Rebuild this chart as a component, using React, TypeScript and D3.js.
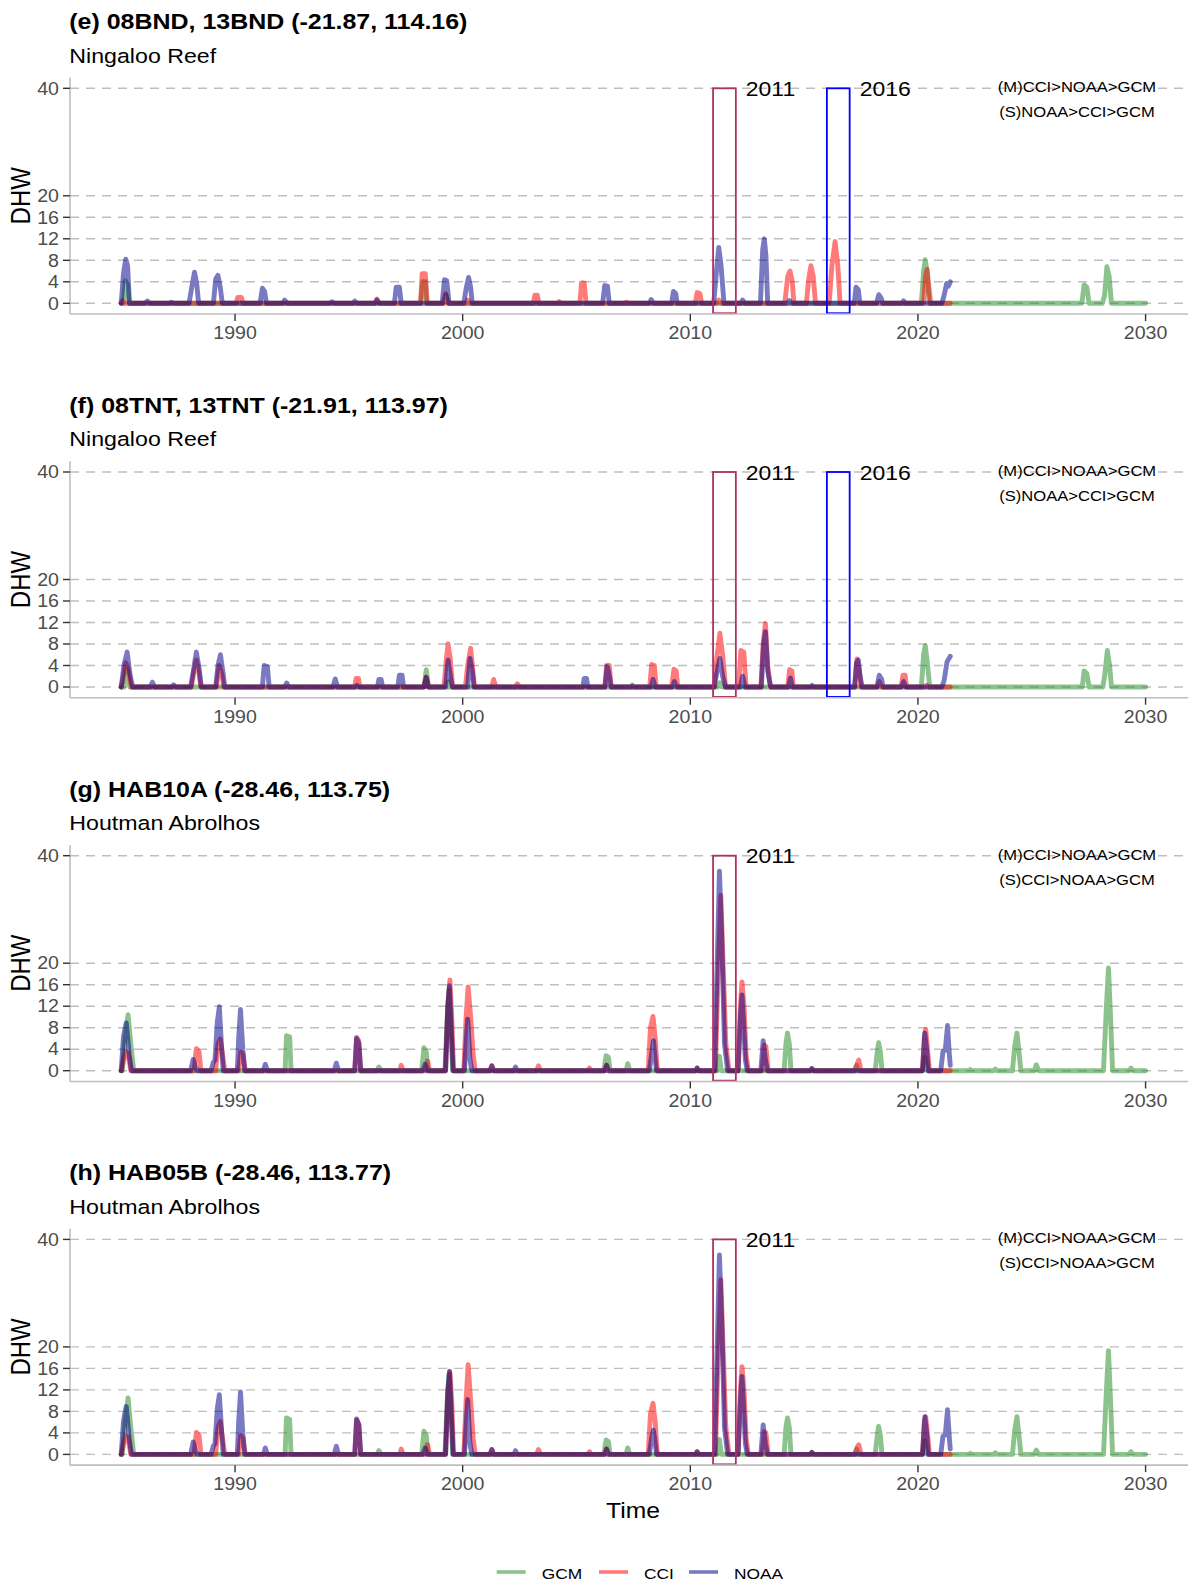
import React, { useEffect } from "react";
import * as d3 from "d3";

// DHW time series: [decimal year, DHW]
type Pt = [number, number];

const panelTitles = [
  "(e) 08BND, 13BND (-21.87, 114.16)",
  "(f) 08TNT, 13TNT (-21.91, 113.97)",
  "(g) HAB10A (-28.46, 113.75)",
  "(h) HAB05B (-28.46, 113.77)",
];
const panelSites = ["Ningaloo Reef", "Ningaloo Reef", "Houtman Abrolhos", "Houtman Abrolhos"];
const rankM = ["(M)CCI>NOAA>GCM", "(M)CCI>NOAA>GCM", "(M)CCI>NOAA>GCM", "(M)CCI>NOAA>GCM"];
const rankS = ["(S)NOAA>CCI>GCM", "(S)NOAA>CCI>GCM", "(S)CCI>NOAA>GCM", "(S)CCI>NOAA>GCM"];
const eventYears = [[2011, 2016], [2011, 2016], [2011], [2011]];
const eventColors: Record<number, string> = { 2011: "#B03060", 2016: "#0000FF" };

const yTicks = [0, 4, 8, 12, 16, 20, 40];
const xTicks = [1990, 2000, 2010, 2020, 2030];

const seriesNames = ["GCM", "CCI", "NOAA"];
const seriesColors = ["#228B22", "#FF0000", "#00008B"];

// ---- panel (e)
const gcmE: Pt[] = [
  [1985.0, 0], [1985.1, 0], [1985.18, 4.2], [1985.28, 3.5], [1985.36, 0],
  [1998.16, 0], [1998.24, 4], [1998.36, 4], [1998.42, 0],
  [1999.2, 0], [1999.28, 1.5], [1999.36, 0],
  [2020.15, 0], [2020.25, 6], [2020.32, 8.1], [2020.4, 6], [2020.5, 0],
  [2027.2, 0], [2027.3, 3.4], [2027.42, 3], [2027.52, 0],
  [2028.1, 0], [2028.2, 1.5], [2028.3, 6.8], [2028.4, 5], [2028.5, 0],
  [2030.0, 0],
];
const cciE: Pt[] = [
  [1985.0, 0], [1985.05, 0.5], [1985.15, 0],
  [1990.05, 0], [1990.12, 1.1], [1990.28, 1.1], [1990.35, 0],
  [1996.15, 0], [1996.23, 0.8], [1996.32, 0],
  [1998.15, 0], [1998.22, 5.5], [1998.36, 5.5], [1998.44, 0],
  [1999.15, 0], [1999.25, 1.8], [1999.35, 0],
  [2000.15, 0], [2000.22, 0.6], [2000.3, 0],
  [2003.1, 0], [2003.17, 1.5], [2003.28, 1.5], [2003.35, 0],
  [2004.18, 0], [2004.24, 0.3], [2004.32, 0],
  [2005.15, 0], [2005.22, 3.8], [2005.34, 3.8], [2005.42, 0],
  [2007.12, 0], [2007.2, 0.2], [2007.28, 0],
  [2010.22, 0], [2010.3, 2], [2010.42, 1.8], [2010.5, 0],
  [2011.15, 0], [2011.25, 0.6], [2011.35, 0],
  [2014.15, 0], [2014.28, 5], [2014.38, 6], [2014.48, 4], [2014.55, 0],
  [2015.1, 0], [2015.2, 4.5], [2015.3, 7], [2015.4, 5], [2015.5, 0],
  [2016.1, 0], [2016.22, 7], [2016.36, 11.5], [2016.48, 7], [2016.58, 0],
  [2020.25, 0], [2020.33, 5], [2020.4, 6.3], [2020.48, 3], [2020.56, 0],
  [2021.42, 0],
];
const noaaE: Pt[] = [
  [1985.0, 0], [1985.1, 5.5], [1985.2, 8.2], [1985.28, 7], [1985.36, 0],
  [1986.05, 0], [1986.15, 0.4], [1986.25, 0],
  [1987.12, 0], [1987.2, 0.2], [1987.3, 0],
  [1987.98, 0], [1988.1, 3], [1988.22, 5.8], [1988.32, 3.5], [1988.4, 0],
  [1989.05, 0], [1989.15, 4.5], [1989.25, 5.2], [1989.35, 3], [1989.44, 0],
  [1991.1, 0], [1991.2, 2.8], [1991.3, 2.2], [1991.38, 0],
  [1992.1, 0], [1992.18, 0.6], [1992.3, 0],
  [1994.18, 0], [1994.26, 0.3], [1994.36, 0],
  [1995.18, 0], [1995.26, 0.4], [1995.36, 0],
  [1996.16, 0], [1996.24, 0.6], [1996.32, 0],
  [1997.0, 0], [1997.08, 3], [1997.22, 3], [1997.3, 0],
  [1999.1, 0], [1999.2, 4.4], [1999.3, 4.2], [1999.4, 0],
  [2000.05, 0], [2000.15, 2.7], [2000.26, 4.8], [2000.35, 3], [2000.42, 0],
  [2006.15, 0], [2006.24, 3.3], [2006.36, 3.2], [2006.44, 0],
  [2008.2, 0], [2008.28, 0.7], [2008.38, 0],
  [2009.18, 0], [2009.26, 2.2], [2009.36, 1.8], [2009.42, 0],
  [2011.03, 0], [2011.15, 6], [2011.25, 10.4], [2011.35, 7], [2011.48, 0],
  [2012.22, 0], [2012.3, 0.6], [2012.4, 0],
  [2013.08, 0], [2013.18, 10], [2013.25, 12], [2013.32, 9], [2013.4, 0],
  [2014.28, 0], [2014.35, 0.5], [2014.45, 0],
  [2017.2, 0], [2017.28, 3], [2017.38, 2.5], [2017.45, 0],
  [2018.18, 0], [2018.28, 1.6], [2018.38, 1], [2018.45, 0],
  [2019.28, 0], [2019.37, 0.45], [2019.45, 0],
  [2021.05, 0], [2021.15, 1.5], [2021.26, 3.7], [2021.34, 3.2], [2021.42, 4],
];

// ---- panel (f)
const gcmF: Pt[] = [
  [1985.0, 0], [1985.12, 0], [1985.25, 3.3], [1985.38, 0],
  [1998.3, 0], [1998.4, 3.2], [1998.5, 0],
  [1999.3, 0], [1999.36, 1], [1999.42, 0],
  [2011.2, 0], [2011.3, 0.8], [2011.4, 0],
  [2020.15, 0], [2020.25, 6], [2020.32, 7.7], [2020.4, 5], [2020.52, 0],
  [2027.22, 0], [2027.3, 3], [2027.42, 2.5], [2027.52, 0],
  [2028.12, 0], [2028.2, 2], [2028.32, 6.8], [2028.42, 4], [2028.5, 0],
  [2030.0, 0],
];
const cciF: Pt[] = [
  [1985.0, 0], [1985.1, 2], [1985.2, 4.5], [1985.3, 3.5], [1985.45, 0],
  [1988.08, 0], [1988.2, 3], [1988.3, 5], [1988.42, 2.5], [1988.5, 0],
  [1989.18, 0], [1989.3, 4], [1989.42, 2.5], [1989.5, 0],
  [1995.26, 0], [1995.32, 1.6], [1995.42, 1.6], [1995.48, 0],
  [1998.3, 0], [1998.4, 1.8], [1998.48, 0],
  [1999.18, 0], [1999.28, 5], [1999.36, 8], [1999.46, 5], [1999.56, 0],
  [2000.12, 0], [2000.22, 4], [2000.35, 7.2], [2000.45, 3], [2000.52, 0],
  [2001.28, 0], [2001.36, 1.4], [2001.46, 0],
  [2002.32, 0], [2002.4, 0.6], [2002.5, 0],
  [2006.25, 0], [2006.32, 4], [2006.44, 4], [2006.52, 0],
  [2008.22, 0], [2008.3, 4.2], [2008.42, 4], [2008.5, 0],
  [2009.18, 0], [2009.28, 3.3], [2009.38, 3], [2009.45, 0],
  [2011.05, 0], [2011.18, 6], [2011.3, 10], [2011.42, 6], [2011.55, 0],
  [2012.12, 0], [2012.22, 6.8], [2012.35, 6.5], [2012.45, 0],
  [2013.1, 0], [2013.2, 8], [2013.3, 11.8], [2013.4, 4], [2013.52, 0],
  [2014.28, 0], [2014.36, 3.2], [2014.46, 3], [2014.52, 0],
  [2017.22, 0], [2017.32, 5.2], [2017.42, 3], [2017.5, 0],
  [2018.22, 0], [2018.3, 1], [2018.4, 0],
  [2019.26, 0], [2019.34, 2.2], [2019.44, 2.2], [2019.5, 0],
  [2020.3, 0], [2020.38, 0.3], [2020.46, 0],
  [2021.42, 0],
];
const noaaF: Pt[] = [
  [1985.0, 0], [1985.12, 4], [1985.26, 6.5], [1985.38, 2.5], [1985.5, 0],
  [1986.28, 0], [1986.37, 0.9], [1986.46, 0],
  [1987.22, 0], [1987.3, 0.4], [1987.4, 0],
  [1988.05, 0], [1988.15, 2.5], [1988.3, 6.5], [1988.42, 3.5], [1988.52, 0],
  [1989.15, 0], [1989.25, 4], [1989.36, 6], [1989.46, 3], [1989.55, 0],
  [1991.2, 0], [1991.28, 4], [1991.42, 3.8], [1991.5, 0],
  [1992.18, 0], [1992.27, 0.75], [1992.36, 0],
  [1994.3, 0], [1994.4, 1.5], [1994.5, 0],
  [1995.28, 0], [1995.36, 0.3], [1995.44, 0],
  [1996.26, 0], [1996.32, 1.4], [1996.42, 1.4], [1996.48, 0],
  [1997.15, 0], [1997.22, 2.2], [1997.34, 2.2], [1997.4, 0],
  [1998.3, 0], [1998.4, 1.8], [1998.5, 0],
  [1999.25, 0], [1999.36, 5], [1999.46, 2], [1999.55, 0],
  [2000.22, 0], [2000.32, 5.3], [2000.42, 3], [2000.5, 0],
  [2005.28, 0], [2005.34, 1.6], [2005.44, 1.6], [2005.5, 0],
  [2006.25, 0], [2006.35, 3.8], [2006.45, 2], [2006.52, 0],
  [2007.38, 0], [2007.45, 0.3], [2007.52, 0],
  [2008.28, 0], [2008.36, 1.4], [2008.45, 0],
  [2009.22, 0], [2009.3, 1], [2009.4, 0],
  [2011.05, 0], [2011.18, 3], [2011.3, 5.3], [2011.42, 2], [2011.55, 0],
  [2012.2, 0], [2012.3, 2], [2012.4, 0],
  [2013.12, 0], [2013.22, 8], [2013.3, 10.3], [2013.4, 3], [2013.48, 1], [2013.54, 0],
  [2014.32, 0], [2014.4, 1.7], [2014.48, 0],
  [2015.28, 0], [2015.35, 0.3], [2015.42, 0],
  [2017.22, 0], [2017.3, 4.5], [2017.38, 5], [2017.46, 2], [2017.55, 0],
  [2018.2, 0], [2018.3, 2.2], [2018.4, 1.5], [2018.47, 0],
  [2019.28, 0], [2019.37, 1], [2019.46, 0],
  [2021.05, 0], [2021.15, 1.2], [2021.28, 4.7], [2021.42, 5.7],
];

// ---- panel (g)
const gcmG: Pt[] = [
  [1985.0, 0], [1985.05, 0], [1985.15, 5], [1985.3, 10.4], [1985.42, 5], [1985.55, 0],
  [1992.2, 0], [1992.26, 6.5], [1992.4, 6.3], [1992.46, 0],
  [1996.24, 0], [1996.32, 0.7], [1996.42, 0],
  [1998.2, 0], [1998.3, 4.3], [1998.4, 3.5], [1998.48, 0],
  [1999.22, 0], [1999.32, 10], [1999.4, 15], [1999.5, 6], [1999.56, 0],
  [2006.2, 0], [2006.3, 2.8], [2006.4, 2.5], [2006.48, 0],
  [2007.18, 0], [2007.25, 1.3], [2007.34, 0],
  [2011.2, 0], [2011.28, 2.7], [2011.36, 0],
  [2014.12, 0], [2014.2, 5], [2014.27, 7], [2014.35, 5], [2014.42, 0],
  [2017.2, 0], [2017.3, 1], [2017.38, 0],
  [2018.12, 0], [2018.2, 3], [2018.27, 5.2], [2018.35, 3.5], [2018.42, 0],
  [2020.2, 0], [2020.3, 2.5], [2020.4, 0],
  [2022.24, 0], [2022.3, 0.2], [2022.36, 0],
  [2023.32, 0], [2023.4, 0.3], [2023.48, 0],
  [2024.15, 0], [2024.25, 4.5], [2024.35, 7], [2024.45, 3], [2024.52, 0],
  [2025.12, 0], [2025.2, 1.1], [2025.3, 0],
  [2028.15, 0], [2028.28, 12], [2028.37, 19.1], [2028.46, 10], [2028.55, 0],
  [2029.28, 0], [2029.36, 0.5], [2029.44, 0],
  [2030.0, 0],
];
const cciG: Pt[] = [
  [1985.0, 0], [1985.1, 2], [1985.2, 3.5], [1985.3, 3.3], [1985.42, 0],
  [1988.2, 0], [1988.3, 4.1], [1988.42, 3.5], [1988.5, 0],
  [1989.15, 0], [1989.25, 5], [1989.35, 5.9], [1989.45, 3], [1989.55, 0],
  [1990.15, 0], [1990.25, 3.5], [1990.35, 3], [1990.45, 0],
  [1995.26, 0], [1995.34, 6.2], [1995.44, 5.5], [1995.52, 0],
  [1997.24, 0], [1997.3, 1], [1997.38, 0],
  [1998.36, 0], [1998.45, 1.8], [1998.55, 0],
  [1999.25, 0], [1999.35, 12], [1999.44, 16.9], [1999.52, 10], [1999.6, 0],
  [2000.05, 0], [2000.15, 10], [2000.24, 15.6], [2000.35, 10], [2000.46, 3], [2000.55, 0],
  [2001.2, 0], [2001.28, 0.9], [2001.36, 0],
  [2003.25, 0], [2003.33, 0.9], [2003.42, 0],
  [2005.5, 0], [2005.57, 0.5], [2005.64, 0],
  [2006.25, 0], [2006.32, 1], [2006.4, 0],
  [2008.15, 0], [2008.25, 8], [2008.36, 10.1], [2008.46, 6], [2008.55, 0],
  [2010.24, 0], [2010.3, 0.5], [2010.36, 0],
  [2011.1, 0], [2011.2, 15], [2011.34, 32.6], [2011.44, 20], [2011.56, 5], [2011.7, 0],
  [2012.1, 0], [2012.2, 12], [2012.27, 16.5], [2012.36, 12], [2012.45, 3], [2012.55, 0],
  [2013.15, 0], [2013.25, 4.8], [2013.32, 4.5], [2013.42, 0],
  [2015.28, 0], [2015.34, 0.4], [2015.42, 0],
  [2017.25, 0], [2017.35, 1.5], [2017.4, 2], [2017.5, 0],
  [2020.2, 0], [2020.28, 6], [2020.34, 7.7], [2020.42, 4], [2020.5, 0],
  [2021.42, 0],
];
const noaaG: Pt[] = [
  [1985.0, 0], [1985.1, 6.4], [1985.22, 8.9], [1985.35, 3], [1985.45, 0],
  [1988.05, 0], [1988.16, 2.1], [1988.28, 0.5], [1988.35, 0],
  [1988.95, 0], [1989.04, 1.5], [1989.12, 2], [1989.22, 9], [1989.31, 11.9], [1989.4, 5], [1989.48, 0],
  [1990.1, 0], [1990.16, 6], [1990.24, 11.4], [1990.34, 4], [1990.42, 0],
  [1991.25, 0], [1991.33, 1.2], [1991.42, 0],
  [1994.36, 0], [1994.45, 1.4], [1994.54, 0],
  [1995.26, 0], [1995.34, 6], [1995.44, 5], [1995.52, 0],
  [1998.25, 0], [1998.35, 1.2], [1998.44, 0],
  [1999.25, 0], [1999.35, 12], [1999.42, 15.8], [1999.5, 8], [1999.58, 0],
  [2000.08, 0], [2000.16, 6], [2000.22, 9.6], [2000.32, 2.1], [2000.4, 0],
  [2001.2, 0], [2001.28, 0.9], [2001.36, 0],
  [2002.25, 0], [2002.32, 0.7], [2002.4, 0],
  [2006.25, 0], [2006.32, 1], [2006.4, 0],
  [2008.2, 0], [2008.3, 3], [2008.38, 5.6], [2008.46, 2], [2008.52, 0],
  [2010.24, 0], [2010.3, 0.5], [2010.36, 0],
  [2011.07, 0], [2011.18, 20], [2011.28, 37.1], [2011.38, 25], [2011.5, 5], [2011.64, 0],
  [2012.1, 0], [2012.2, 10], [2012.27, 14.1], [2012.35, 8], [2012.42, 2], [2012.5, 0],
  [2013.1, 0], [2013.2, 5.6], [2013.3, 2], [2013.38, 0],
  [2015.28, 0], [2015.34, 0.4], [2015.42, 0],
  [2020.2, 0], [2020.3, 7], [2020.38, 4], [2020.46, 0],
  [2021.0, 0], [2021.1, 3.6], [2021.2, 3.8], [2021.3, 8.4], [2021.38, 3], [2021.42, 1],
];

// ---- panel (h)
const gcmH: Pt[] = [
  [1985.0, 0], [1985.05, 0], [1985.15, 5], [1985.3, 10.5], [1985.42, 5], [1985.55, 0],
  [1992.2, 0], [1992.26, 6.8], [1992.4, 6.5], [1992.46, 0],
  [1996.24, 0], [1996.32, 0.7], [1996.42, 0],
  [1998.2, 0], [1998.3, 4.3], [1998.4, 3.5], [1998.48, 0],
  [1999.22, 0], [1999.32, 10], [1999.4, 14.9], [1999.5, 6], [1999.56, 0],
  [2006.2, 0], [2006.3, 2.7], [2006.4, 2.4], [2006.48, 0],
  [2007.18, 0], [2007.25, 1.2], [2007.34, 0],
  [2011.2, 0], [2011.28, 2.8], [2011.36, 0],
  [2014.12, 0], [2014.2, 5], [2014.27, 6.8], [2014.35, 5], [2014.42, 0],
  [2017.2, 0], [2017.3, 1], [2017.38, 0],
  [2018.12, 0], [2018.2, 3], [2018.27, 5.2], [2018.35, 3.5], [2018.42, 0],
  [2020.2, 0], [2020.3, 2.5], [2020.4, 0],
  [2022.24, 0], [2022.3, 0.2], [2022.36, 0],
  [2023.32, 0], [2023.4, 0.3], [2023.48, 0],
  [2024.15, 0], [2024.25, 4.5], [2024.35, 7], [2024.45, 3], [2024.52, 0],
  [2025.12, 0], [2025.2, 0.8], [2025.3, 0],
  [2028.15, 0], [2028.28, 12], [2028.37, 19.3], [2028.46, 10], [2028.55, 0],
  [2029.28, 0], [2029.36, 0.5], [2029.44, 0],
  [2030.0, 0],
];
const cciH: Pt[] = [
  [1985.0, 0], [1985.1, 2], [1985.2, 3.4], [1985.3, 3.2], [1985.42, 0],
  [1988.2, 0], [1988.3, 4.1], [1988.42, 3.5], [1988.5, 0],
  [1989.15, 0], [1989.25, 5], [1989.35, 6.1], [1989.45, 3], [1989.55, 0],
  [1990.15, 0], [1990.25, 3.5], [1990.35, 3], [1990.45, 0],
  [1995.26, 0], [1995.34, 6.4], [1995.44, 5.5], [1995.52, 0],
  [1997.24, 0], [1997.3, 1], [1997.38, 0],
  [1998.36, 0], [1998.45, 1.8], [1998.55, 0],
  [1999.25, 0], [1999.35, 11], [1999.44, 15.3], [1999.52, 10], [1999.6, 0],
  [2000.05, 0], [2000.15, 10], [2000.24, 16.7], [2000.35, 10], [2000.46, 3], [2000.55, 0],
  [2001.2, 0], [2001.28, 0.9], [2001.36, 0],
  [2003.25, 0], [2003.33, 0.9], [2003.42, 0],
  [2005.5, 0], [2005.57, 0.5], [2005.64, 0],
  [2006.25, 0], [2006.32, 1], [2006.4, 0],
  [2008.15, 0], [2008.25, 7.5], [2008.36, 9.5], [2008.46, 6], [2008.55, 0],
  [2010.24, 0], [2010.3, 0.5], [2010.36, 0],
  [2011.1, 0], [2011.2, 15], [2011.34, 32.5], [2011.44, 20], [2011.56, 5], [2011.7, 0],
  [2012.1, 0], [2012.2, 12], [2012.27, 16.3], [2012.36, 12], [2012.45, 3], [2012.55, 0],
  [2013.15, 0], [2013.25, 4.2], [2013.32, 4], [2013.42, 0],
  [2015.28, 0], [2015.34, 0.4], [2015.42, 0],
  [2017.25, 0], [2017.35, 1.5], [2017.4, 1.8], [2017.5, 0],
  [2020.2, 0], [2020.28, 6], [2020.34, 7], [2020.42, 4], [2020.5, 0],
  [2021.42, 0],
];
const noaaH: Pt[] = [
  [1985.0, 0], [1985.1, 6.2], [1985.22, 8.9], [1985.35, 3], [1985.45, 0],
  [1988.05, 0], [1988.16, 2.3], [1988.28, 0.5], [1988.35, 0],
  [1988.95, 0], [1989.04, 1.5], [1989.12, 2], [1989.22, 8.5], [1989.31, 11.1], [1989.4, 5], [1989.48, 0],
  [1990.1, 0], [1990.16, 6], [1990.24, 11.6], [1990.34, 4], [1990.42, 0],
  [1991.25, 0], [1991.33, 1.2], [1991.42, 0],
  [1994.36, 0], [1994.45, 1.5], [1994.54, 0],
  [1995.26, 0], [1995.34, 6.6], [1995.44, 5.5], [1995.52, 0],
  [1998.25, 0], [1998.35, 1.2], [1998.44, 0],
  [1999.25, 0], [1999.35, 12], [1999.42, 15.5], [1999.5, 8], [1999.58, 0],
  [2000.08, 0], [2000.16, 6], [2000.22, 10.2], [2000.32, 2.1], [2000.4, 0],
  [2001.2, 0], [2001.28, 0.9], [2001.36, 0],
  [2002.25, 0], [2002.32, 0.7], [2002.4, 0],
  [2006.25, 0], [2006.32, 1], [2006.4, 0],
  [2008.2, 0], [2008.3, 3], [2008.38, 4.5], [2008.46, 2], [2008.52, 0],
  [2010.24, 0], [2010.3, 0.5], [2010.36, 0],
  [2011.07, 0], [2011.18, 20], [2011.28, 37.1], [2011.38, 25], [2011.5, 5], [2011.64, 0],
  [2012.1, 0], [2012.2, 10], [2012.27, 14.5], [2012.35, 8], [2012.42, 2], [2012.5, 0],
  [2013.1, 0], [2013.2, 5.5], [2013.3, 2], [2013.38, 0],
  [2015.28, 0], [2015.34, 0.4], [2015.42, 0],
  [2020.2, 0], [2020.3, 7], [2020.38, 4], [2020.46, 0],
  [2021.0, 0], [2021.1, 3.4], [2021.2, 3.6], [2021.3, 8.3], [2021.38, 3], [2021.42, 1],
];

const panelSeries: Pt[][][] = [
  [gcmE, cciE, noaaE],
  [gcmF, cciF, noaaF],
  [gcmG, cciG, noaaG],
  [gcmH, cciH, noaaH],
];

const W = 1188;
const H = 1584;
const SX = 1.12; // the original figure is a little stretched horizontally
const PANEL_STEP = 383.7;
const FONT = "'Liberation Sans', Arial, Helvetica, sans-serif";

const xScale = d3.scaleLinear().domain([1982.75, 2032.25]).range([70, 1196.8]);

const T: React.FC<{
  x: number;
  y: number;
  size: number;
  anchor?: string;
  weight?: string;
  fill?: string;
  rotate?: boolean;
  children: React.ReactNode;
}> = ({ x, y, size, anchor = "start", weight = "normal", fill = "#000", rotate, children }) => (
  <text
    transform={`translate(${x},${y}) scale(${SX},1)${rotate ? " rotate(-90)" : ""}`}
    fontSize={size}
    fontFamily={FONT}
    fontWeight={weight}
    textAnchor={anchor}
    fill={fill}
  >
    {children}
  </text>
);

const Panel: React.FC<{ i: number }> = ({ i }) => {
  const off = i * PANEL_STEP;
  const y = d3.scaleLinear().domain([-2, 42]).range([314.05 + off, 77.55 + off]);
  const line = d3
    .line<Pt>()
    .x((d) => xScale(d[0]))
    .y((d) => y(d[1]));
  const x0 = xScale.range()[0];
  const yBottom = y(-2);

  return (
    <g>
      <T x={69.3} y={29.3 + off} size={22.3} weight="bold">
        {panelTitles[i]}
      </T>
      <T x={69.3} y={62.7 + off} size={20.7}>
        {panelSites[i]}
      </T>

      {yTicks.map((t) => (
        <line
          key={`g${t}`}
          x1={x0}
          x2={W}
          y1={y(t)}
          y2={y(t)}
          stroke="#BEBEBE"
          strokeWidth={1.4}
          strokeDasharray="9,7"
        />
      ))}

      {panelSeries[i].map((s, k) => (
        <path
          key={seriesNames[k]}
          d={line(s) || ""}
          fill="none"
          stroke={seriesColors[k]}
          strokeOpacity={0.52}
          strokeWidth={4.9}
          strokeLinejoin="round"
          strokeLinecap="round"
        />
      ))}

      {eventYears[i].map((yr) => (
        <g key={`ev${yr}`}>
          <rect
            x={xScale(yr)}
            y={y(40)}
            width={xScale(yr + 1) - xScale(yr)}
            height={y(-1.85) - y(40)}
            fill="none"
            stroke={eventColors[yr]}
            strokeWidth={1.8}
          />
          <T x={xScale(yr + 1) + 10} y={y(40) + 7.5} size={20.5}>
            {String(yr)}
          </T>
        </g>
      ))}

      <T x={1077} y={y(40) + 4} size={14.8} anchor="middle">
        {rankM[i]}
      </T>
      <T x={1077} y={y(40) + 29} size={14.8} anchor="middle">
        {rankS[i]}
      </T>

      {/* axes */}
      <line x1={x0} x2={x0} y1={y(42)} y2={yBottom} stroke="#BEBEBE" strokeWidth={1.6} />
      <line x1={x0} x2={W} y1={yBottom} y2={yBottom} stroke="#BEBEBE" strokeWidth={1.6} />
      {yTicks.map((t) => (
        <g key={`yt${t}`}>
          <line x1={x0 - 7} x2={x0} y1={y(t)} y2={y(t)} stroke="#333" strokeWidth={1.4} />
          <T x={x0 - 11} y={y(t) + 6.2} size={17.5} anchor="end" fill="#4D4D4D">
            {String(t)}
          </T>
        </g>
      ))}
      {xTicks.map((t) => (
        <g key={`xt${t}`}>
          <line x1={xScale(t)} x2={xScale(t)} y1={yBottom} y2={yBottom + 7} stroke="#333" strokeWidth={1.4} />
          <T x={xScale(t)} y={yBottom + 25.3} size={17.5} anchor="middle" fill="#4D4D4D">
            {String(t)}
          </T>
        </g>
      ))}
      <T x={30} y={(y(-2) + y(42)) / 2} size={24} anchor="middle" rotate>
        DHW
      </T>
    </g>
  );
};

const legendKeyX = [496.7, 599, 689];

export default function App() {
  useEffect(() => {
    document.body.style.margin = "0";
  }, []);

  return (
    <svg width={W} height={H} style={{ display: "block", background: "#fff" }}>
      <rect width={W} height={H} fill="#fff" />
      {panelTitles.map((_, i) => (
        <Panel key={i} i={i} />
      ))}
      <T x={633} y={1518} size={22} anchor="middle">
        Time
      </T>
      {seriesNames.map((n, k) => (
        <g key={n}>
          <line
            x1={legendKeyX[k]}
            x2={legendKeyX[k] + 29}
            y1={1572}
            y2={1572}
            stroke={seriesColors[k]}
            strokeOpacity={0.52}
            strokeWidth={3.6}
          />
          <T x={legendKeyX[k] + 45} y={1579} size={15.5}>
            {n}
          </T>
        </g>
      ))}
    </svg>
  );
}
